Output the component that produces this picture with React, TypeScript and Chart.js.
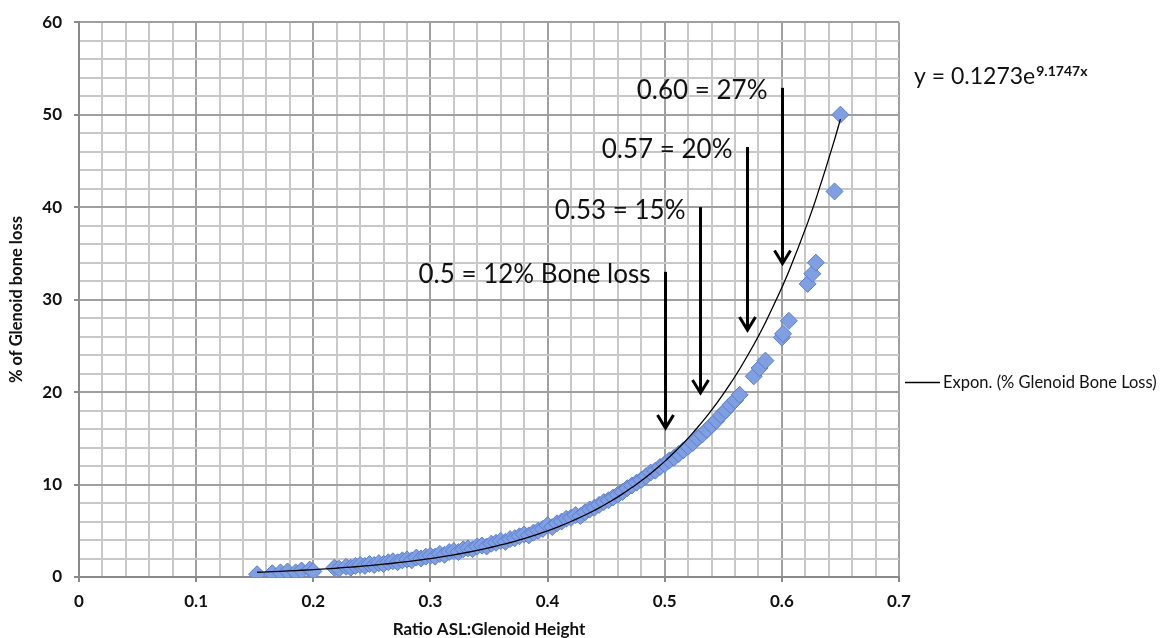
import React, { useEffect, useRef } from 'react';
import { Chart, registerables } from 'chart.js';

Chart.register(...registerables);

// ---- data ----
const ratio = [
  0.152, 0.165, 0.172, 0.178, 0.185, 0.19, 0.197, 0.2,
  0.218, 0.222, 0.228, 0.232, 0.236, 0.24, 0.244, 0.248, 0.252, 0.256, 0.26, 0.264,
  0.268, 0.272, 0.276, 0.28, 0.284, 0.288, 0.292, 0.296, 0.3, 0.304, 0.308, 0.312,
  0.316, 0.32, 0.324, 0.328, 0.332, 0.336, 0.34, 0.344, 0.348, 0.352, 0.356, 0.36,
  0.364, 0.368, 0.372, 0.376, 0.38, 0.384, 0.388, 0.392, 0.396, 0.4, 0.404, 0.408,
  0.412, 0.416, 0.42, 0.424, 0.428, 0.432, 0.436, 0.44, 0.444, 0.448, 0.452, 0.456,
  0.46, 0.464, 0.468, 0.472, 0.476, 0.48, 0.484, 0.488, 0.492, 0.496, 0.5, 0.504,
  0.508, 0.512, 0.516, 0.52, 0.524, 0.528, 0.532, 0.536, 0.54, 0.544, 0.548, 0.552,
  0.556, 0.56, 0.564, 0.576, 0.581, 0.586, 0.6, 0.601, 0.606, 0.622, 0.626, 0.629,
  0.645, 0.65,
];
const boneLoss = [
  0.3, 0.4, 0.5, 0.6, 0.5, 0.7, 0.8, 0.6,
  1.0, 0.9, 1.1, 1.0, 1.2, 1.3, 1.2, 1.4, 1.3, 1.5, 1.4, 1.6,
  1.7, 1.6, 1.8, 1.9, 1.8, 2.1, 2.0, 2.2, 2.3, 2.2, 2.5, 2.4,
  2.7, 2.8, 2.7, 3.0, 3.1, 3.0, 3.3, 3.4, 3.3, 3.6, 3.7, 3.9,
  3.8, 4.1, 4.2, 4.4, 4.6, 4.5, 4.8, 5.0, 5.2, 5.6, 5.4, 5.8,
  6.0, 6.3, 6.4, 6.7, 6.6, 7.0, 7.3, 7.5, 7.8, 8.1, 8.3, 8.6,
  8.9, 9.2, 9.6, 9.9, 10.2, 10.5, 10.9, 11.3, 11.5, 11.9, 12.2, 12.6,
  12.9, 13.3, 13.7, 14.1, 14.5, 15.0, 15.4, 15.9, 16.4, 16.9, 17.5, 18.0,
  18.6, 19.1, 19.7, 21.7, 22.6, 23.4, 25.9, 26.3, 27.7, 31.7, 32.8, 34.0,
  41.7, 50.0,
];

// exponential trendline y = A * e^(B x), as printed on the chart
const trendA = 0.1273;
const trendB = 9.1747;

// annotation arrows (in data units)
const arrowX = [0.5, 0.53, 0.57, 0.6];
const arrowTop = [33, 40, 46.5, 52.9];
const arrowTip = [16, 19.8, 26.6, 33.8];
const arrowLabels = ['0.5 = 12% Bone loss', '0.53 = 15%', '0.57 = 20%', '0.60 = 27%'];

const equationMain = 'y = 0.1273e';
const equationExp = '9.1747x';
const legendLabel = 'Expon. (% Glenoid Bone Loss)';
const xTitle = 'Ratio ASL:Glenoid Height';
const yTitle = '% of Glenoid bone loss';

const xMin = 0, xMax = 0.7, xStep = 0.02, xMajor = 0.1;
const yMin = 0, yMax = 60, yStep = 2, yMajor = 10;

const FONT = 'Lato, "Open Sans", sans-serif';

const isMajor = (v: number, m: number) => Math.abs(v / m - Math.round(v / m)) < 1e-6;

const overlay = {
  id: 'overlay',
  afterDraw(chart: any) {
    const { ctx, chartArea, scales } = chart;
    const x = scales.x, y = scales.y;
    ctx.save();
    ctx.strokeStyle = '#000';
    ctx.fillStyle = '#111';
    arrowX.forEach((v, i) => {
      const px = Math.round(x.getPixelForValue(v)) + 0.5;
      const top = y.getPixelForValue(arrowTop[i]);
      const tip = y.getPixelForValue(arrowTip[i]);
      ctx.lineWidth = 3;
      ctx.lineCap = 'butt';
      ctx.beginPath();
      ctx.moveTo(px, top);
      ctx.lineTo(px, tip - 2);
      ctx.stroke();
      ctx.beginPath();
      ctx.lineJoin = 'miter';
      ctx.moveTo(px - 8, tip - 14);
      ctx.lineTo(px, tip - 1);
      ctx.lineTo(px + 8, tip - 14);
      ctx.stroke();
      ctx.font = `26px ${FONT}`;
      ctx.textAlign = 'right';
      ctx.textBaseline = 'middle';
      ctx.fillText(arrowLabels[i], px - 15, top + 3);
    });

    // trendline equation
    const ex = chartArea.right + 15;
    ctx.textAlign = 'left';
    ctx.textBaseline = 'alphabetic';
    ctx.font = `23px ${FONT}`;
    ctx.fillText(equationMain, ex, 84);
    const w = ctx.measureText(equationMain).width;
    ctx.font = `bold 14px ${FONT}`;
    ctx.fillText(equationExp, ex + w + 1, 76);

    // legend
    const ly = 382.5;
    ctx.lineWidth = 1.5;
    ctx.beginPath();
    ctx.moveTo(chartArea.right + 6, ly);
    ctx.lineTo(chartArea.right + 41, ly);
    ctx.stroke();
    ctx.font = `16.5px ${FONT}`;
    ctx.textBaseline = 'middle';
    ctx.fillText(legendLabel, chartArea.right + 44, ly);
    ctx.restore();
  },
};

export default function App() {
  const ref = useRef<HTMLCanvasElement | null>(null);
  useEffect(() => {
    if (!ref.current) return;
    const points = ratio.map((r, i) => ({ x: r, y: boneLoss[i] }));
    const trend = ratio.map((r) => ({ x: r, y: trendA * Math.exp(trendB * r) }));
    const gridColor = (m: number) => (c: any) => (isMajor(c.tick.value, m) ? '#a0a0a0' : '#c8c8c8');
    const tickColor = (m: number) => (c: any) => (isMajor(c.tick.value, m) ? '#8a8a8a' : 'rgba(0,0,0,0)');
    const chart = new Chart(ref.current, {
      type: 'scatter',
      data: {
        datasets: [
          {
            type: 'line',
            label: legendLabel,
            data: trend,
            showLine: true,
            borderColor: '#000',
            borderWidth: 1.3,
            pointRadius: 0,
            cubicInterpolationMode: 'monotone',
            order: 0,
          } as any,
          {
            type: 'scatter',
            label: '% Glenoid Bone Loss',
            data: points,
            pointStyle: 'rectRot',
            pointRadius: 8.5,
            backgroundColor: '#7f9fe2',
            borderColor: '#5d7fcb',
            borderWidth: 1,
            order: 1,
          } as any,
        ],
      },
      options: {
        responsive: false,
        animation: false,
        events: [],
        layout: { padding: { top: 19, right: 264, bottom: 0, left: 0 } },
        plugins: { legend: { display: false }, tooltip: { enabled: false } },
        scales: {
          x: {
            type: 'linear',
            min: xMin,
            max: xMax,
            afterFit: (s: any) => { s.height = 61; },
            border: { color: '#8a8a8a', width: 2 },
            grid: { color: gridColor(xMajor), lineWidth: 2, tickLength: 5, tickColor: tickColor(xMajor), tickWidth: 2 },
            ticks: {
              stepSize: xStep,
              autoSkip: false,
              maxRotation: 0,
              padding: 9,
              color: '#111',
              font: { family: FONT, size: 17, weight: 'bold' },
              callback: (v: any) => (isMajor(v, xMajor) ? (v === 0 ? '0' : Number(v).toFixed(1)) : ''),
            },
            title: {
              display: true,
              text: xTitle,
              color: '#111',
              font: { family: FONT, size: 17, weight: 'bold' },
              padding: { top: 0, bottom: -2 },
            },
          },
          y: {
            type: 'linear',
            min: yMin,
            max: yMax,
            afterFit: (s: any) => { s.width = 79; },
            border: { color: '#8a8a8a', width: 2 },
            grid: { color: gridColor(yMajor), lineWidth: 2, tickLength: 5, tickColor: tickColor(yMajor), tickWidth: 2 },
            ticks: {
              stepSize: yStep,
              autoSkip: false,
              padding: 12,
              color: '#111',
              font: { family: FONT, size: 17, weight: 'bold' },
              callback: (v: any) => (isMajor(v, yMajor) ? String(v) : ''),
            },
            title: {
              display: true,
              text: yTitle,
              color: '#111',
              font: { family: FONT, size: 16.5, weight: 'bold' },
              padding: { top: 7, bottom: 0 },
            },
          },
        },
      } as any,
      plugins: [overlay],
    });
    return () => chart.destroy();
  }, []);
  return (
    <div style={{ position: 'absolute', left: 0, top: 0, width: 1163, height: 638, background: '#fff' }}>
      <canvas ref={ref} width={1163} height={638} />
    </div>
  );
}
